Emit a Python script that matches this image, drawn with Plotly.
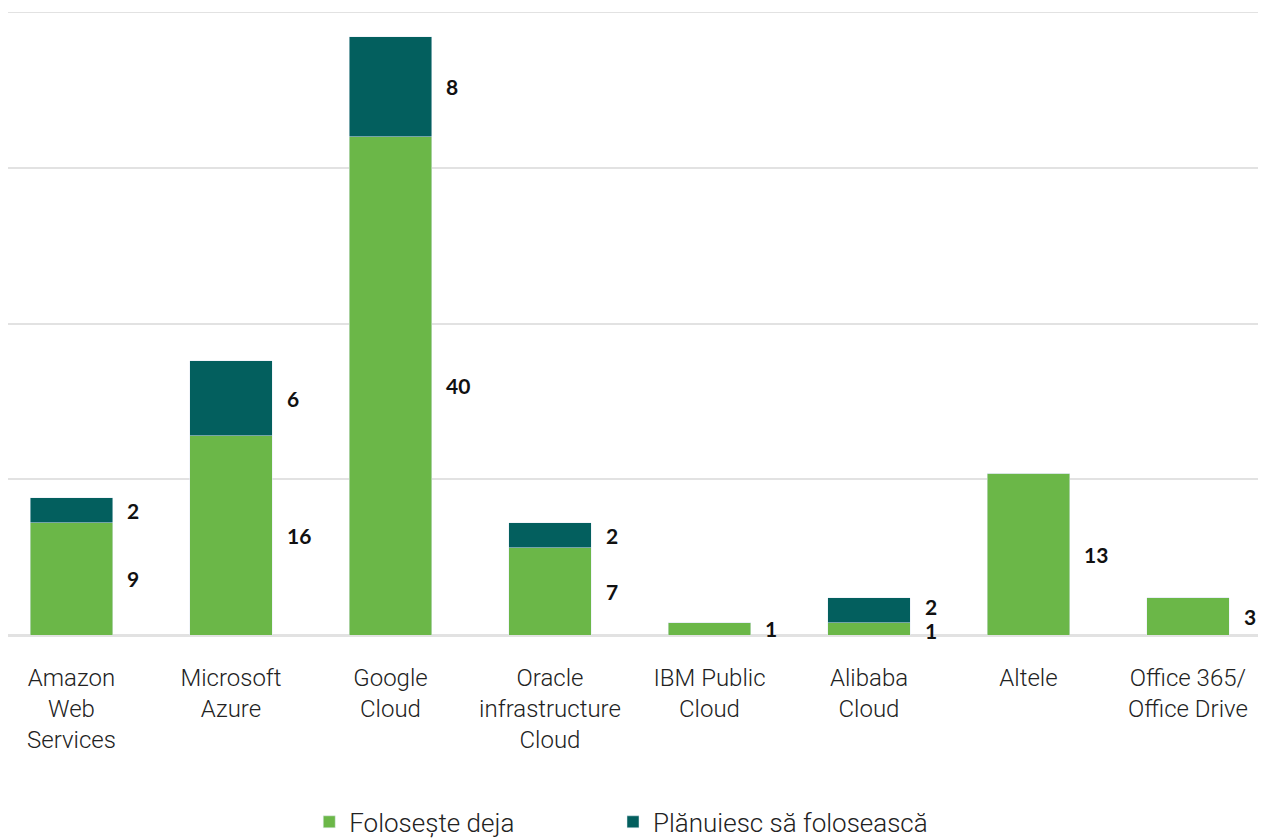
import plotly.graph_objects as go

categories = ["Amazon<br>Web<br>Services", "Microsoft<br>Azure", "Google<br>Cloud",
              "Oracle<br>infrastructure<br>Cloud", "IBM Public<br>Cloud", "Alibaba<br>Cloud",
              "Altele", "Office 365/<br>Office Drive"]
folosește_deja = [9, 16, 40, 7, 1, 1, 13, 3]
planuiesc = [2, 6, 8, 2, 0, 2, 0, 0]

GREEN = "#6BB748"
TEAL = "#035F5E"
FONT = "Roboto"
GRID = "#e2e2e2"

x = list(range(len(categories)))
fig = go.Figure()
fig.add_trace(go.Bar(x=x, y=folosește_deja, name="Folosește deja", marker_color=GREEN,
                     width=0.52, hoverinfo="skip", legend="legend", showlegend=True))
fig.add_trace(go.Bar(x=x, y=planuiesc, name="Plănuiesc să folosească", marker_color=TEAL,
                     width=0.52, hoverinfo="skip", legend="legend2", showlegend=True))

lab_font = dict(size=21, color="#111", family="Lato", weight="bold")
annotations = []
for i, (a, b) in enumerate(zip(folosește_deja, planuiesc)):
    tight = a < 2 and b > 0
    if a:
        annotations.append(dict(x=i, y=a / 2, text=str(a), showarrow=False,
                                xanchor="left", xshift=54, yshift=-2 if tight else 0,
                                font=lab_font))
    if b:
        annotations.append(dict(x=i, y=a + b / 2, text=str(b), showarrow=False,
                                xanchor="left", xshift=54, yshift=4 if tight else 0,
                                font=lab_font))

leg_font = dict(size=26, color="#222", family=FONT, weight=300)
fig.update_layout(
    barmode="stack",
    showlegend=True,
    width=1250, height=838,
    margin=dict(l=0, r=0, t=4, b=211, autoexpand=False),
    plot_bgcolor="white", paper_bgcolor="white",
    font=dict(family=FONT, size=24, color="#222", weight=300),
    xaxis=dict(tickmode="array", tickvals=x, ticktext=categories, range=[-0.398, 7.439],
               showgrid=False, showline=False, ticks="", automargin=False,
               ticklabelstandoff=26,
               tickfont=dict(size=24, color="#222", family=FONT, weight=300)),
    yaxis=dict(range=[0, 50], dtick=12.5, showticklabels=False, showgrid=True,
               gridcolor=GRID, gridwidth=2, zeroline=True, zerolinecolor=GRID,
               zerolinewidth=3, automargin=False),
    legend=dict(orientation="h", x=0.241, xanchor="left", y=-0.30, yanchor="middle",
                font=leg_font, visible=True),
    legend2=dict(orientation="h", x=0.484, xanchor="left", y=-0.30, yanchor="middle",
                 font=leg_font, visible=True),
    annotations=annotations,
    shapes=[dict(type="line", xref="paper", yref="y", x0=0, x1=1, y0=50, y1=50,
                 line=dict(color=GRID, width=2), layer="below")],
)

fig.write_html("out.html")
